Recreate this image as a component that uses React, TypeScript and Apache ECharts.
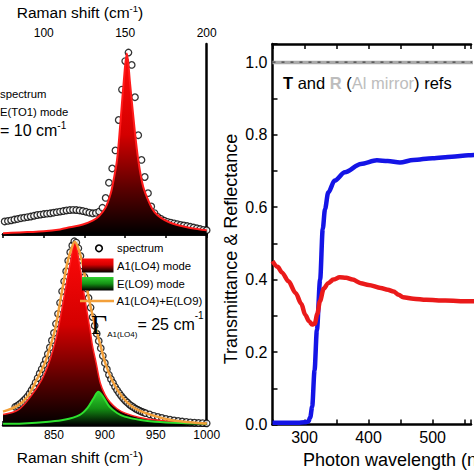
import { useEffect, useRef } from 'react';
import * as echarts from 'echarts';

const SANS = '"Liberation Sans", Arimo, Arial, sans-serif';
const SERIF = '"Liberation Serif", "DejaVu Serif", serif';

// ---------- Top-left panel: E(TO1) Raman mode ----------
const tlSpecX = [76, 78, 80, 82, 84, 86, 88, 90, 92, 94, 96, 98, 100, 102, 104, 106, 108, 110, 112, 114, 116, 118, 120, 122, 124, 126, 128, 130, 132, 134, 136, 138, 140, 142, 144, 146, 148, 150, 152, 154, 156, 158, 160, 162, 164, 166, 168, 170, 172, 174, 176, 178, 180, 182, 184, 186, 188, 190, 192, 194, 196, 198, 200];
const tlSpecY = [0.066, 0.069, 0.072, 0.076, 0.079, 0.083, 0.086, 0.089, 0.092, 0.096, 0.1, 0.102, 0.105, 0.107, 0.109, 0.112, 0.115, 0.118, 0.121, 0.124, 0.126, 0.127, 0.126, 0.124, 0.121, 0.117, 0.112, 0.109, 0.111, 0.118, 0.138, 0.19, 0.27, 0.345, 0.44, 0.6, 0.76, 0.91, 0.955, 0.89, 0.72, 0.52, 0.39, 0.3, 0.215, 0.145, 0.11, 0.09, 0.079, 0.07, 0.064, 0.06, 0.056, 0.052, 0.048, 0.045, 0.042, 0.038, 0.034, 0.03, 0.026, 0.022, 0.02];
const tlFitX = [75, 80, 90, 100, 110, 116, 124, 130, 134, 138, 141, 143, 145, 147, 149, 151, 153, 155.6, 158, 161, 165, 168, 172, 177, 182, 190, 200];
const tlFitY = [0.004, 0.006, 0.01, 0.014, 0.024, 0.035, 0.05, 0.07, 0.095, 0.14, 0.21, 0.29, 0.39, 0.58, 0.79, 0.95, 0.79, 0.565, 0.39, 0.25, 0.16, 0.115, 0.085, 0.062, 0.047, 0.032, 0.02];

// ---------- Bottom-left panel: A1(LO4) + E(LO9) ----------
const blSpecX = [812, 814, 816, 818, 820, 822, 824, 826, 828, 830, 832, 834, 836, 838, 840, 842, 844, 846, 848, 850, 852, 854, 856, 858, 860, 862, 864, 866, 868, 870, 872, 874, 876, 878, 880, 882, 884, 886, 888, 890, 892, 894, 896, 898, 900, 902, 904, 906, 908, 910, 912, 914, 916, 918, 920, 922, 924, 926, 928, 930, 932, 934, 936, 938, 940, 944, 948, 952, 956, 960, 964, 968, 972, 976, 980, 984, 988, 992, 996, 1000];
const blSpecY = [0.095, 0.1, 0.108, 0.116, 0.126, 0.137, 0.149, 0.164, 0.182, 0.2, 0.222, 0.246, 0.27, 0.293, 0.316, 0.342, 0.372, 0.406, 0.443, 0.482, 0.53, 0.582, 0.64, 0.7, 0.752, 0.805, 0.86, 0.905, 0.94, 0.962, 0.955, 0.925, 0.885, 0.835, 0.775, 0.715, 0.665, 0.615, 0.565, 0.52, 0.478, 0.44, 0.402, 0.362, 0.325, 0.292, 0.263, 0.24, 0.22, 0.2, 0.183, 0.167, 0.153, 0.14, 0.128, 0.118, 0.108, 0.1, 0.093, 0.086, 0.08, 0.075, 0.07, 0.066, 0.062, 0.055, 0.048, 0.042, 0.037, 0.032, 0.028, 0.024, 0.021, 0.018, 0.016, 0.014, 0.012, 0.011, 0.01, 0.009];
const blA1X = [800, 815, 827, 838, 845, 850, 854, 860, 866, 870.5, 875, 880, 885.5, 888, 891.5, 895.5, 900, 905, 912, 920, 935, 950, 975, 1000];
const blA1Y = [0.055, 0.079, 0.148, 0.236, 0.323, 0.41, 0.497, 0.672, 0.846, 0.955, 0.846, 0.672, 0.497, 0.41, 0.323, 0.22, 0.16, 0.12, 0.085, 0.062, 0.038, 0.026, 0.015, 0.01];
const blEX = [800, 820, 845, 860, 875, 883, 889, 893.6, 898, 904.5, 912, 919.5, 935, 949, 975, 1000];
const blEY = [0.006, 0.008, 0.017, 0.027, 0.052, 0.09, 0.14, 0.174, 0.15, 0.096, 0.063, 0.044, 0.026, 0.017, 0.01, 0.007];
const blSumX = [800, 814, 824, 833, 841, 846, 851, 857, 863, 867, 870.5, 874, 878, 884, 889, 893, 896, 900.5, 908, 917, 927, 941, 965, 995, 1000];
const blSumY = [0.07, 0.1, 0.148, 0.236, 0.323, 0.405, 0.497, 0.672, 0.846, 0.92, 0.96, 0.925, 0.846, 0.672, 0.55, 0.47, 0.41, 0.323, 0.225, 0.148, 0.096, 0.061, 0.026, 0.009, 0.008];

// ---------- Right panel: transmittance & reflectance ----------
const refX = [250, 300, 350, 400, 450, 500, 550, 600];
const refT = [1.0, 1.0, 1.0, 1.0, 1.0, 1.0, 1.0, 1.0];
const refR = [0.999, 0.999, 0.999, 0.999, 0.999, 0.999, 0.999, 0.999];
const transX = [250, 270, 290, 300, 306, 309, 312, 315.7, 319.3, 324.4, 328.5, 332, 337, 347, 363, 388, 413, 430, 449, 470, 500, 530, 556, 580];
const transY = [0.005, 0.005, 0.005, 0.006, 0.008, 0.02, 0.05, 0.15, 0.26, 0.4, 0.54, 0.594, 0.64, 0.673, 0.696, 0.719, 0.729, 0.727, 0.723, 0.73, 0.735, 0.739, 0.743, 0.746];
const reflX = [250, 258, 265, 275, 286, 295, 301, 307, 312, 316, 320, 324, 330, 337, 345, 355, 365, 375, 388, 400, 419, 430, 439, 447, 454, 470, 490, 520, 556, 580];
const reflY = [0.451, 0.435, 0.419, 0.395, 0.363, 0.333, 0.303, 0.285, 0.276, 0.278, 0.305, 0.34, 0.375, 0.39, 0.4, 0.406, 0.405, 0.4, 0.39, 0.385, 0.377, 0.372, 0.367, 0.358, 0.351, 0.347, 0.344, 0.342, 0.34, 0.34];

const zip = (xs: number[], ys: number[]) => xs.map((x, i) => [x, ys[i]]);

const AX = { color: '#000', width: 2.5 };
const grad = (stops: [number, string][]) =>
  new echarts.graphic.LinearGradient(0, 0, 0, 1, stops.map(([offset, color]) => ({ offset, color })));
const redGrad = () => grad([[0, '#ff0a0a'], [0.45, '#d40000'], [0.75, '#5a0000'], [1, '#000000']]);
const greenGrad = () => grad([[0, '#30d030'], [0.5, '#149014'], [1, '#000000']]);

export default function App() {
  const ref = useRef<HTMLDivElement>(null);
  useEffect(() => {
    document.body.style.margin = '0';
    const chart = echarts.init(ref.current!, null, { renderer: 'svg' });
    const lbl = (size: number, margin: number, fmt: (v: number) => string) => ({
      color: '#000', fontSize: size, fontFamily: SANS, margin, formatter: fmt,
    });
    const option: any = {
      animation: false,
      backgroundColor: '#fff',
      grid: [
        { left: -1.67, top: 44, width: 208.34, height: 190 },
        { left: -16.7, top: 234, width: 223.4, height: 191 },
        { left: 272.5, top: 44, right: -1, height: 380.5 },
      ],
      xAxis: [
        { type: 'value', gridIndex: 0, position: 'top', min: 75, max: 200, interval: 25,
          axisLine: { lineStyle: AX }, axisTick: { inside: true, length: 4, lineStyle: { width: 1.5, color: '#000' } },
          axisLabel: lbl(12, 5, (v) => (v % 50 === 0 ? String(v) : '')), splitLine: { show: false } },
        { type: 'value', gridIndex: 0, position: 'bottom', min: 75, max: 200,
          axisLine: { lineStyle: AX }, axisTick: { show: false }, axisLabel: { show: false }, splitLine: { show: false } },
        { type: 'value', gridIndex: 1, position: 'bottom', min: 800, max: 1000, interval: 25,
          axisLine: { lineStyle: AX }, axisTick: { inside: true, length: 4, lineStyle: { width: 1.5, color: '#000' } },
          axisLabel: lbl(12, 4, (v) => (v % 50 === 0 && v > 800 ? String(v) : '')), splitLine: { show: false } },
        { type: 'value', gridIndex: 2, position: 'bottom', min: 250, max: 560, interval: 50,
          axisLine: { lineStyle: AX }, axisTick: { inside: true, length: 5, lineStyle: { width: 1.5, color: '#000' } },
          axisLabel: lbl(16, 5, (v) => (v % 100 === 0 ? String(v) : '')), splitLine: { show: false } },
        { type: 'value', gridIndex: 2, position: 'top', min: 250, max: 560, interval: 50,
          axisLine: { lineStyle: AX }, axisTick: { inside: true, length: 5, lineStyle: { width: 1.5, color: '#000' } },
          axisLabel: { show: false }, splitLine: { show: false } },
      ],
      yAxis: [
        { type: 'value', gridIndex: 0, min: 0, max: 1, show: false },
        { type: 'value', gridIndex: 0, position: 'right', min: 0, max: 1,
          axisLine: { show: true, lineStyle: AX }, axisTick: { show: false }, axisLabel: { show: false }, splitLine: { show: false } },
        { type: 'value', gridIndex: 1, min: 0, max: 1, show: false },
        { type: 'value', gridIndex: 1, position: 'right', min: 0, max: 1,
          axisLine: { show: true, lineStyle: AX }, axisTick: { show: false }, axisLabel: { show: false }, splitLine: { show: false } },
        { type: 'value', gridIndex: 2, position: 'left', min: 0, max: 1.05, interval: 0.1,
          axisLine: { show: true, lineStyle: AX }, axisTick: { inside: true, length: 5, lineStyle: { width: 1.5, color: '#000' } },
          axisLabel: lbl(16, 5, (v) => (Math.round(v * 10) % 2 === 0 && v < 1.01 ? v.toFixed(1) : '')),
          splitLine: { show: false } },
      ],
      series: [
        // top-left
        { type: 'line', xAxisIndex: 0, yAxisIndex: 0, data: zip(tlFitX, tlFitY), smooth: 0.35, showSymbol: false,
          lineStyle: { color: '#ff1a1a', width: 2 }, areaStyle: { color: redGrad(), opacity: 1 } },
        { type: 'scatter', xAxisIndex: 0, yAxisIndex: 0, data: zip(tlSpecX, tlSpecY), symbol: 'circle', symbolSize: 6.5,
          itemStyle: { color: '#fff', borderColor: '#000', borderWidth: 1.3 } },
        // bottom-left
        { type: 'line', xAxisIndex: 2, yAxisIndex: 2, data: zip(blA1X, blA1Y), smooth: 0.35, showSymbol: false,
          lineStyle: { color: '#ff2020', width: 1.5 }, areaStyle: { color: redGrad(), opacity: 1 } },
        { type: 'line', xAxisIndex: 2, yAxisIndex: 2, data: zip(blEX, blEY), smooth: 0.35, showSymbol: false,
          lineStyle: { color: '#2ee02e', width: 2 }, areaStyle: { color: greenGrad(), opacity: 1 } },
        { type: 'scatter', xAxisIndex: 2, yAxisIndex: 2, data: zip(blSpecX, blSpecY), symbol: 'circle', symbolSize: 6.5,
          itemStyle: { color: '#fff', borderColor: '#000', borderWidth: 1.3 } },
        { type: 'line', xAxisIndex: 2, yAxisIndex: 2, data: zip(blSumX, blSumY), smooth: 0.35, showSymbol: false,
          lineStyle: { color: '#f3a03a', width: 2.5 } },
        // right
        { type: 'line', xAxisIndex: 3, yAxisIndex: 4, data: zip(refX, refR), showSymbol: false,
          lineStyle: { color: '#aaaaaa', width: 3.5 } },
        { type: 'line', xAxisIndex: 3, yAxisIndex: 4, data: zip(refX, refT), showSymbol: false,
          lineStyle: { color: '#444', width: 1.2, type: [3, 6] } },
        { type: 'line', xAxisIndex: 3, yAxisIndex: 4, data: zip(transX, transY), smooth: 0.3, smoothMonotone: 'x', showSymbol: false,
          lineStyle: { color: '#1414e6', width: 4.5 } },
        { type: 'line', xAxisIndex: 3, yAxisIndex: 4, data: zip(reflX, reflY), smooth: 0.3, smoothMonotone: 'x', showSymbol: false,
          lineStyle: { color: '#ea1a1a', width: 4.5 } },
      ],
      graphic: [
        { type: 'text', x: 80, y: 12, z: 100, style: {
            text: '{a|Raman shift (cm}{s|-1}{a|)}', align: 'center', verticalAlign: 'middle',
            rich: { a: { fontSize: 15.5, fontFamily: SANS, fill: '#000', lineHeight: 18 },
                    s: { fontSize: 9.5, fontFamily: SANS, fill: '#000', lineHeight: 9, verticalAlign: 'top' } } } },
        { type: 'text', x: 80, y: 457, z: 100, style: {
            text: '{a|Raman shift (cm}{s|-1}{a|)}', align: 'center', verticalAlign: 'middle',
            rich: { a: { fontSize: 15.5, fontFamily: SANS, fill: '#000', lineHeight: 18 },
                    s: { fontSize: 9.5, fontFamily: SANS, fill: '#000', lineHeight: 9, verticalAlign: 'top' } } } },
        { type: 'text', x: 231, y: 249, rotation: Math.PI / 2, z: 100, style: {
            text: 'Transmittance & Reflectance', fontSize: 18, fontFamily: SANS, fill: '#000', align: 'center', verticalAlign: 'middle' } },
        { type: 'text', x: 303, y: 460, z: 100, style: {
            text: 'Photon wavelength (nm)', fontSize: 18, fontFamily: SANS, fill: '#000', align: 'left', verticalAlign: 'middle' } },
        { type: 'text', x: 283, y: 83, z: 100, style: {
            text: '{tb|T}{t| and }{rb|R}{t| (}{g|Al mirror}{t|) refs}', align: 'left', verticalAlign: 'middle',
            rich: { tb: { fontSize: 16.5, fontWeight: 'bold', fontFamily: SANS, fill: '#000' },
                    t: { fontSize: 16.5, fontFamily: SANS, fill: '#000' },
                    rb: { fontSize: 16.5, fontWeight: 'bold', fontFamily: SANS, fill: '#bdbdbd' },
                    g: { fontSize: 16.5, fontFamily: SANS, fill: '#bdbdbd' } } } },
        // top-left legend fragments
        { type: 'text', x: 0, y: 93.5, z: 100, style: { text: 'spectrum', fontSize: 11.3, fontFamily: SANS, fill: '#000', align: 'left', verticalAlign: 'middle' } },
        { type: 'text', x: 0, y: 111.5, z: 100, style: { text: 'E(TO1) mode', fontSize: 11.3, fontFamily: SANS, fill: '#000', align: 'left', verticalAlign: 'middle' } },
        { type: 'text', x: 0, y: 130, z: 100, style: {
            text: '{n|= 10 cm}{s|-1}', align: 'left', verticalAlign: 'middle',
            rich: { n: { fontSize: 16, fontFamily: SANS, fill: '#000', lineHeight: 20 },
                    s: { fontSize: 10, fontFamily: SANS, fill: '#000', lineHeight: 10, verticalAlign: 'top' } } } },
        // bottom-left legend
        { type: 'circle', z: 100, shape: { cx: 99, cy: 248.3, r: 3.3 }, style: { fill: '#fff', stroke: '#000', lineWidth: 1.6 } },
        { type: 'text', x: 117, y: 248.3, z: 100, style: { text: 'spectrum', fontSize: 11.3, fontFamily: SANS, fill: '#000', align: 'left', verticalAlign: 'middle' } },
        { type: 'rect', z: 100, shape: { x: 82, y: 258.5, width: 31.5, height: 14 }, style: { fill: redGrad() } },
        { type: 'text', x: 117, y: 266, z: 100, style: { text: 'A1(LO4) mode', fontSize: 11.3, fontFamily: SANS, fill: '#000', align: 'left', verticalAlign: 'middle' } },
        { type: 'rect', z: 100, shape: { x: 82, y: 277, width: 31.5, height: 13.5 }, style: { fill: greenGrad() } },
        { type: 'text', x: 117, y: 283.5, z: 100, style: { text: 'E(LO9) mode', fontSize: 11.3, fontFamily: SANS, fill: '#000', align: 'left', verticalAlign: 'middle' } },
        { type: 'line', z: 100, shape: { x1: 80, y1: 301, x2: 114, y2: 301 }, style: { stroke: '#f3a03a', lineWidth: 2.5 } },
        { type: 'text', x: 116.5, y: 301, z: 100, style: { text: 'A1(LO4)+E(LO9)', fontSize: 11.3, fontFamily: SANS, fill: '#000', align: 'left', verticalAlign: 'middle' } },
        { type: 'text', x: 91, y: 324, z: 100, style: {
            text: '{g|Γ}{sub|A1(LO4)}{n|= 25 cm}{sup|-1}', align: 'left', verticalAlign: 'middle',
            rich: { g: { fontSize: 28, fontFamily: SERIF, fill: '#000', lineHeight: 28 },
                    sub: { fontSize: 8, fontFamily: SANS, fill: '#000', lineHeight: 9, verticalAlign: 'bottom' },
                    n: { fontSize: 16, fontFamily: SANS, fill: '#000', lineHeight: 20 },
                    sup: { fontSize: 10, fontFamily: SANS, fill: '#000', lineHeight: 10, verticalAlign: 'top' } } } },
      ],
    };
    chart.setOption(option);
    return () => chart.dispose();
  }, []);
  return <div ref={ref} style={{ width: 474, height: 474 }} />;
}
